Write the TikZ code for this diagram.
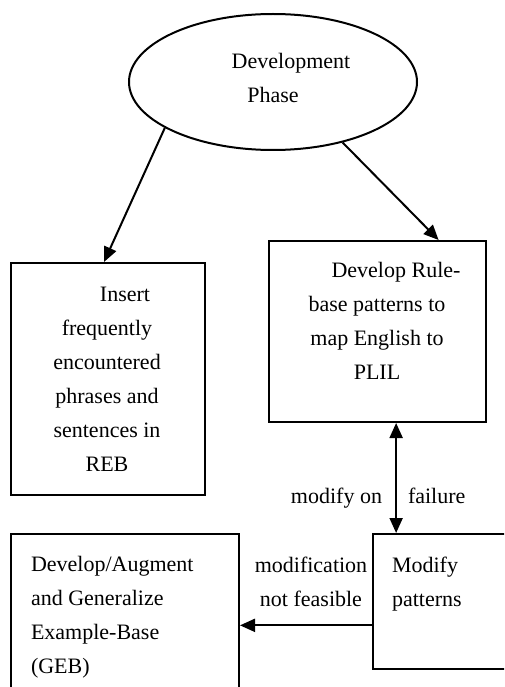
\documentclass[tikz,border=0pt]{standalone}
\usepackage{fontspec}
\setmainfont{Liberation Serif}
\usetikzlibrary{arrows.meta,shapes.geometric,calc}
\begin{document}
\begin{tikzpicture}[x=1pt,y=-1pt,line width=2pt,
  box/.style={draw,rectangle,inner sep=0pt,anchor=north west},
  txt/.style={font=\fontsize{22}{34}\selectfont,inner sep=0pt},
  arr/.style={-{Triangle[length=15pt,width=13pt]},line width=2pt},
  arrbi/.style={{Triangle[length=15pt,width=13pt]}-{Triangle[length=15pt,width=13pt]},line width=2pt}]
\useasboundingbox (0,0) rectangle (504,687);
\clip (0,0) rectangle (504,687);
% shapes
\node[draw,ellipse,minimum width=288pt,minimum height=136pt,inner sep=0pt] (dev) at (273,82) {};
\node[box,minimum width=194pt,minimum height=232pt] (reb) at (10,262) {};
\node[box,minimum width=217pt,minimum height=181pt] (rb) at (268,240) {};
\node[box,minimum width=160pt,minimum height=135pt] (mod) at (372,533) {};
\node[box,minimum width=228pt,minimum height=200pt] (geb) at (10,533) {};
% texts (base anchor = baseline of the last line)
\node[txt,align=center,anchor=base] (devt) at (273,103) {\hspace*{36pt}Development\\Phase};
\node[txt,align=center,anchor=base] (rebt) at (107,471) {\hspace*{36pt}Insert\\frequently\\encountered\\phrases and\\sentences in\\REB};
\node[txt,align=center,anchor=base] (rbt) at (377,379) {\hspace*{38pt}Develop Rule-\\base patterns to\\map English to\\PLIL};
\node[txt,align=left,anchor=base west] (modt) at (391,606) {Modify\\patterns};
\node[txt,align=left,anchor=base west] (gebt) at (30,673) {Develop/Augment\\and Generalize\\Example-Base\\(GEB)};
% connectors
\draw[arr] (dev.203.5) -- ($(reb.north)+(-4,0)$);
\draw[arr] (dev.319.9) -- ($(rb.north west)!0.779!(rb.north east)$);
\coordinate (vx) at ($(rb.south west)!0.585!(rb.south east)$);
\draw[arrbi] (vx) -- (vx |- mod.north);
\coordinate (hy) at ($(mod.north west)!0.674!(mod.south west)$);
\draw[arr] (hy) -- (geb.east |- hy);
% labels
\node[txt,anchor=base east] (l1) at (383,503) {modify on};
\node[txt,anchor=base west] (l2) at (407,503) {failure};
\node[txt,align=center,anchor=base] (l3) at (311,606) {modification\\not feasible};
\end{tikzpicture}
\end{document}
